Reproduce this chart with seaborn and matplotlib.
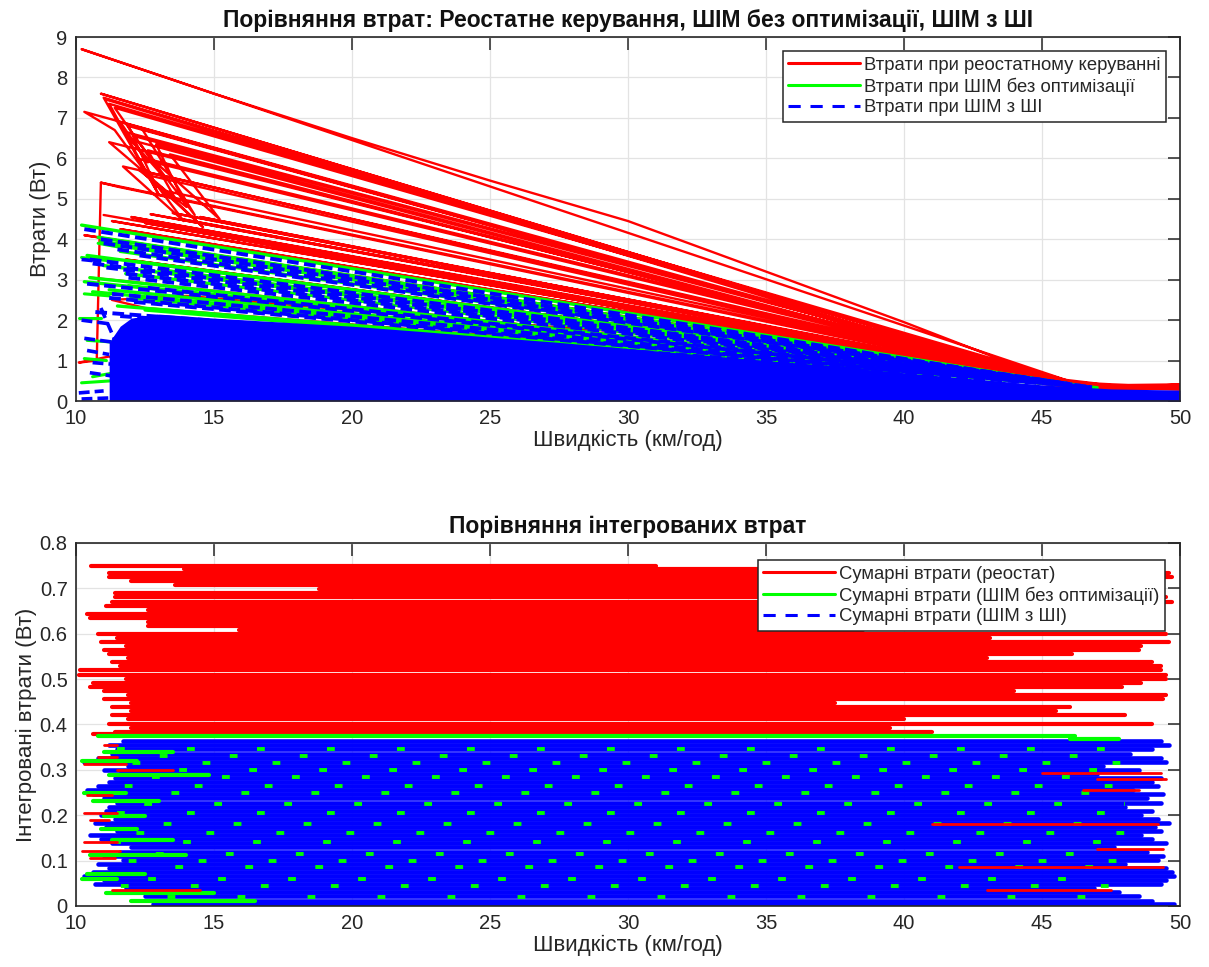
import pandas as pd
import matplotlib
matplotlib.use("Agg")
import matplotlib.pyplot as plt
import seaborn as sns
from matplotlib.lines import Line2D

# ---------------- top chart: losses vs speed ----------------
# red (rheostat) zig-zag path, upper fan
red_fan_speed = [46.3, 10.2, 15.0, 20.0, 25.0, 30.0, 35.0, 40.0, 45.5, 10.9, 45.8, 11.0, 13.0, 11.2, 46.1,
                 10.3, 11.4, 12.9, 11.9, 45.6, 12.4, 14.3, 12.1, 46.4, 11.2, 13.6, 12.6, 45.9, 11.7, 13.9,
                 12.2, 46.2, 10.9, 11.5, 45.3, 12.5, 14.6, 13.2, 46.6, 11.8, 12.6, 11.6, 45.7, 12.9, 14.0,
                 12.3, 46.0, 11.4, 13.1, 12.0, 45.4, 13.4, 15.2, 12.8, 46.5, 11.1, 44.9]
red_fan_loss = [0.42, 8.70, 7.60, 6.50, 5.45, 4.45, 3.20, 1.95, 0.50, 7.60, 0.45, 7.50, 5.10, 7.35, 0.42,
                7.15, 6.70, 5.30, 6.80, 0.47, 6.72, 4.60, 6.55, 0.40, 6.40, 5.00, 6.20, 0.43, 5.80, 4.45,
                6.00, 0.41, 5.40, 5.30, 0.50, 5.60, 4.30, 5.20, 0.38, 6.65, 5.90, 6.90, 0.44, 6.35, 4.80,
                5.70, 0.46, 7.25, 5.60, 6.45, 0.49, 6.10, 4.50, 5.95, 0.39, 7.45, 0.55]
# red middle fan
red_mid_speed = [11.0, 46.0, 12.0, 45.0, 13.5, 46.3, 11.3, 44.5, 10.3, 45.5, 12.5, 46.8, 11.8, 45.2, 12.2,
                 40.0, 13.0, 45.6, 14.5, 44.8, 11.6, 46.1, 13.8, 45.9, 12.7, 46.4]
red_mid_loss = [4.60, 0.43, 4.55, 0.52, 4.65, 0.40, 4.45, 0.60, 4.10, 0.47, 4.40, 0.36, 3.50, 0.50, 4.50,
                1.05, 4.35, 0.46, 4.55, 0.55, 4.25, 0.42, 4.50, 0.44, 4.62, 0.41]
# red lower curves
red_low_speed = [10.5, 12.0, 45.8, 46.0, 35.0, 25.0, 14.0, 11.3, 12.5, 30.0, 46.2]
red_low_loss = [3.05, 2.95, 0.42, 0.40, 1.45, 1.95, 2.60, 2.50, 2.30, 1.35, 0.38]
# red near-vertical line and short bits at low speed
red_left_speed = [10.9, 10.75, 10.1, 11.2, 12.0]
red_left_loss = [5.40, 1.00, 0.95, 1.10, 0.85]
# red tail at high speed
red_tail_speed = [44.0, 46.0, 47.5, 50.0, 48.0, 46.5, 44.5, 45.5, 47.0, 49.0, 50.0]
red_tail_loss = [0.62, 0.45, 0.36, 0.38, 0.30, 0.33, 0.50, 0.52, 0.40, 0.33, 0.31]

# green (PWM without optimisation) fan
green_fan_from_speed = [10.2, 10.8, 11.4, 10.4, 11.0, 11.8, 10.3, 11.2, 12.0, 10.6, 11.5, 12.5,
                        10.9, 11.6, 12.2, 13.0, 10.5, 11.9]
green_fan_from_loss = [4.35, 4.05, 3.85, 3.60, 3.35, 3.15, 2.95, 2.75, 2.55, 2.70, 2.35, 2.25,
                       3.95, 3.70, 3.45, 3.25, 3.05, 2.85]
green_fan_to_speed = [45.5, 45.2, 46.0, 45.6, 45.0, 46.2, 45.4, 45.8, 46.5, 45.3, 46.0, 47.0,
                      45.7, 45.1, 46.3, 45.9, 46.6, 45.5]
green_fan_to_loss = [0.47, 0.50, 0.42, 0.46, 0.52, 0.40, 0.47, 0.44, 0.36, 0.49, 0.42, 0.33,
                     0.45, 0.51, 0.39, 0.43, 0.35, 0.47]
# green short bits at low speed
green_stub_from_speed = [10.2, 10.3, 10.1, 10.2, 10.4, 10.6, 10.3, 10.8]
green_stub_from_loss = [3.55, 2.65, 2.05, 0.45, 1.50, 0.60, 1.05, 3.90]
green_stub_to_speed = [11.4, 11.2, 10.9, 11.3, 11.5, 11.8, 11.1, 11.6]
green_stub_to_loss = [3.45, 2.60, 2.05, 0.50, 1.45, 0.75, 1.00, 3.80]

# blue (PWM with AI) dashed fan
blue_fan_from_speed = [10.3, 10.9, 11.5, 10.5, 11.1, 11.9, 10.4, 11.3, 12.1, 10.7, 11.6,
                       11.0, 12.3, 10.6, 11.8, 12.6, 11.2]
blue_fan_from_loss = [4.25, 4.00, 3.75, 3.50, 3.30, 3.05, 2.90, 2.65, 2.45, 2.20, 2.10,
                      3.90, 3.60, 3.40, 3.15, 2.80, 2.55]
blue_fan_to_speed = [45.4, 45.9, 45.1, 46.1, 45.6, 45.0, 46.4, 45.7, 46.8, 45.2, 46.6,
                     45.8, 45.3, 46.2, 45.5, 46.0, 46.9]
blue_fan_to_loss = [0.46, 0.43, 0.50, 0.41, 0.45, 0.51, 0.38, 0.44, 0.34, 0.48, 0.36,
                    0.44, 0.49, 0.40, 0.46, 0.42, 0.33]
blue_stub_from_speed = [10.2, 10.1, 10.3, 10.5, 10.9, 10.2, 10.4, 10.2, 10.6]
blue_stub_from_loss = [2.00, 0.20, 1.55, 0.70, 2.30, 3.50, 1.25, 0.05, 0.95]
blue_stub_to_speed = [11.3, 11.0, 11.4, 11.5, 11.6, 10.9, 11.2, 11.4, 11.5]
blue_stub_to_loss = [1.90, 0.25, 1.45, 0.60, 1.20, 3.45, 1.15, 0.08, 0.90]
# dense solid blue mass (upper edge)
blue_mass_speed = [11.2, 11.6, 12.0, 13.0, 15.0, 17.5, 20.0, 22.5, 25.0, 27.5, 30.0, 32.5, 35.0,
                   37.5, 40.0, 42.5, 45.0, 47.5, 50.0]
blue_mass_top = [1.45, 1.85, 2.05, 2.15, 2.05, 1.95, 1.85, 1.72, 1.58, 1.45, 1.30, 1.15, 1.00,
                 0.85, 0.70, 0.55, 0.40, 0.30, 0.27]

# ---------------- bottom chart: integrated losses ----------------
red_sum_level = [0.750, 0.742, 0.734, 0.725, 0.717, 0.708, 0.698, 0.690, 0.680, 0.671, 0.662, 0.653, 0.644,
                 0.635, 0.626, 0.617, 0.608, 0.600, 0.591, 0.582, 0.573, 0.564, 0.555, 0.546, 0.537, 0.528,
                 0.519, 0.510, 0.501, 0.492, 0.483, 0.474, 0.465, 0.456, 0.447, 0.438, 0.429, 0.420, 0.411,
                 0.402, 0.393, 0.384, 0.378]
red_sum_from = [10.55, 13.9, 11.2, 11.2, 12.0, 13.6, 18.8, 11.4, 11.4, 11.3, 11.1, 12.6, 10.4,
                10.5, 12.6, 12.6, 15.9, 10.8, 11.5, 10.9, 11.8, 11.0, 11.2, 11.9, 11.3, 11.6,
                10.15, 10.1, 11.8, 10.6, 10.5, 11.0, 11.9, 11.0, 12.0, 11.3, 12.0, 11.3, 11.9,
                11.2, 12.0, 11.4, 10.6]
red_sum_to = [31.0, 34.8, 49.6, 49.7, 42.0, 45.0, 44.0, 48.0, 49.5, 49.7, 47.0, 44.0, 46.5,
              48.0, 40.8, 46.0, 38.5, 49.5, 43.1, 49.6, 48.6, 48.5, 46.1, 43.0, 49.0, 49.3,
              49.3, 49.5, 49.5, 48.6, 47.9, 44.0, 49.5, 49.4, 37.5, 46.0, 45.5, 48.0, 40.0,
              49.0, 39.5, 41.0, 32.0]

blue_sum_level = [0.363, 0.354, 0.345, 0.336, 0.327, 0.318, 0.309, 0.300, 0.291, 0.282, 0.273, 0.264,
                  0.255, 0.246, 0.237, 0.228, 0.219, 0.210, 0.201, 0.192, 0.183, 0.174, 0.165, 0.156,
                  0.147, 0.138, 0.129, 0.120, 0.111, 0.102, 0.093, 0.084, 0.075, 0.066, 0.057, 0.048,
                  0.039, 0.030, 0.021, 0.012, 0.004]
blue_sum_from = [11.7, 11.2, 11.5, 11.3, 10.8, 10.3, 11.9, 11.0, 11.6, 11.4, 11.2, 10.8,
                 10.4, 10.6, 11.0, 11.5, 11.2, 11.1, 10.9, 11.4, 10.7, 11.1, 11.5, 10.5,
                 10.9, 11.3, 12.0, 11.6, 11.0, 11.7, 10.8, 11.2, 10.6, 10.3, 11.0, 10.7,
                 11.8, 12.0, 12.5, 12.8, 12.8]
blue_sum_to = [49.3, 49.6, 49.0, 48.2, 49.3, 49.5, 47.2, 48.5, 47.0, 49.3, 49.0, 49.2,
               48.3, 49.4, 48.8, 49.3, 48.0, 49.0, 48.6, 49.2, 49.6, 49.1, 49.3, 48.6,
               49.0, 49.5, 47.6, 48.8, 49.4, 49.2, 48.0, 49.5, 49.7, 49.8, 49.5, 49.3,
               46.9, 47.8, 48.5, 49.0, 49.8]

# green edge on top of the blue block and short green runs at the left
green_sum_level = [0.375, 0.367, 0.340, 0.320, 0.288, 0.250, 0.232, 0.198, 0.170, 0.146, 0.112, 0.070,
                   0.060, 0.028, 0.012]
green_sum_from = [10.8, 46.0, 11.0, 10.2, 11.2, 10.3, 10.6, 11.0, 10.9, 11.3, 10.5, 10.4, 10.2, 11.1, 12.0]
green_sum_to = [46.2, 47.8, 13.5, 12.2, 14.8, 11.8, 13.0, 12.5, 12.2, 13.5, 14.0, 12.5, 11.5, 15.0, 16.5]
# rows where green speckles show through the blue dashes
green_dot_level = [0.345, 0.330, 0.315, 0.300, 0.285, 0.265, 0.250, 0.225, 0.205, 0.180, 0.160, 0.140,
                   0.115, 0.100, 0.085, 0.060, 0.045, 0.020]
# red runs inside the blue block
red_in_level = [0.355, 0.328, 0.312, 0.300, 0.245, 0.205, 0.190, 0.140, 0.122, 0.105, 0.035,
                0.292, 0.280, 0.255, 0.180, 0.125, 0.085, 0.035]
red_in_from = [11.0, 10.8, 10.3, 11.5, 10.4, 10.3, 10.5, 10.3, 10.2, 10.5, 11.3,
               45.0, 47.0, 46.5, 41.0, 47.0, 42.0, 43.0]
red_in_to = [11.5, 11.5, 11.8, 13.5, 11.3, 11.5, 11.2, 11.5, 11.6, 11.4, 14.5,
             49.3, 49.5, 48.5, 49.2, 49.4, 49.4, 47.5]

x_ticks = [10, 15, 20, 25, 30, 35, 40, 45, 50]
y_ticks_top = [0, 1, 2, 3, 4, 5, 6, 7, 8, 9]
y_ticks_bottom = [0, 0.1, 0.2, 0.3, 0.4, 0.5, 0.6, 0.7, 0.8]
y_labels_bottom = ['0', '0.1', '0.2', '0.3', '0.4', '0.5', '0.6', '0.7', '0.8']


def path(xs, ys):
    return pd.DataFrame({'x': xs, 'y': ys, 'seg': 0})


def segments(x0, y0, x1, y1):
    rows = []
    for i in range(len(x0)):
        rows.append((x0[i], y0[i], i))
        rows.append((x1[i], y1[i], i))
    return pd.DataFrame(rows, columns=['x', 'y', 'seg'])


def draw(ax, df, color, lw, z, **kw):
    sns.lineplot(data=df, x='x', y='y', units='seg', estimator=None, sort=False,
                 color=color, lw=lw, zorder=z, ax=ax, legend=False, **kw)


sns.set_theme(style='white')
plt.rcParams['font.family'] = ['Liberation Sans', 'DejaVu Sans']
ink = '#262626'

fig = plt.figure(figsize=(12.09, 9.67), dpi=100)
ax1 = fig.add_axes([0.0629, 0.5853, 0.9131, 0.3764])
ax2 = fig.add_axes([0.0629, 0.0631, 0.9131, 0.3754])

RED, GREEN, BLUE = '#ff0000', '#00ff00', '#0000ff'
blue_dash = (0, (3.0, 1.4))

# top
for xs, ys in [(red_fan_speed, red_fan_loss), (red_mid_speed, red_mid_loss),
               (red_low_speed, red_low_loss), (red_left_speed, red_left_loss)]:
    draw(ax1, path(xs, ys), RED, 1.7, 2)
draw(ax1, path(red_tail_speed, red_tail_loss), RED, 3.5, 2)
draw(ax1, segments(green_fan_from_speed, green_fan_from_loss, green_fan_to_speed, green_fan_to_loss),
     GREEN, 2.4, 3)
draw(ax1, segments(green_stub_from_speed, green_stub_from_loss, green_stub_to_speed, green_stub_to_loss),
     GREEN, 2.2, 3)
ax1.fill_between(blue_mass_speed, 0, blue_mass_top, color=BLUE, lw=0, zorder=4)
draw(ax1, segments(blue_fan_from_speed, blue_fan_from_loss, blue_fan_to_speed, blue_fan_to_loss),
     BLUE, 2.8, 4, linestyle=blue_dash)
draw(ax1, segments(blue_stub_from_speed, blue_stub_from_loss, blue_stub_to_speed, blue_stub_to_loss),
     BLUE, 2.6, 4, linestyle=blue_dash)

# bottom
draw(ax2, segments(red_sum_from, red_sum_level, red_sum_to, red_sum_level), RED, 3.0, 2)
draw(ax2, segments(blue_sum_from, blue_sum_level, blue_sum_to, blue_sum_level), BLUE, 3.3, 3)
draw(ax2, segments(green_sum_from, green_sum_level, green_sum_to, green_sum_level), GREEN, 3.0, 4)
for k, lev in enumerate(green_dot_level):
    draw(ax2, segments([11.5], [lev], [48.0], [lev]), GREEN, 2.8, 4,
         linestyle=(k * 7 % 19, (2.0, 16)))
draw(ax2, segments(red_in_from, red_in_level, red_in_to, red_in_level), RED, 2.0, 4)

for ax, yt, ylim in [(ax1, y_ticks_top, (0, 9)), (ax2, y_ticks_bottom, (0, 0.8))]:
    ax.set_xlim(10, 50)
    ax.set_ylim(*ylim)
    ax.set_xticks(x_ticks)
    ax.set_yticks(yt)
    ax.grid(True, color='#e3e3e3', lw=0.9)
    ax.set_axisbelow(True)
    ax.tick_params(direction='in', top=True, right=True, length=9, width=1.1, color=ink,
                   labelsize=14.5, labelcolor=ink, pad=6)
    for s in ax.spines.values():
        s.set_color(ink)
        s.set_linewidth(1.2)
        s.set_zorder(6)
    ax.set_xlabel('Швидкість (км/год)', fontsize=16, color=ink, labelpad=1)

ax2.set_yticklabels(y_labels_bottom)
ax1.set_ylabel('Втрати (Вт)', fontsize=16, color=ink, labelpad=4)
ax2.set_ylabel('Інтегровані втрати (Вт)', fontsize=16, color=ink, labelpad=2)
ax1.set_title('Порівняння втрат: Реостатне керування, ШІМ без оптимізації, ШІМ з ШІ',
              fontsize=16.5, fontweight='bold', color='#111111', pad=7)
ax2.set_title('Порівняння інтегрованих втрат', fontsize=16.5, fontweight='bold', color='#111111', pad=7)


def handles(labels):
    return [Line2D([], [], color=RED, lw=2.2, label=labels[0]),
            Line2D([], [], color=GREEN, lw=2.2, label=labels[1]),
            Line2D([], [], color=BLUE, lw=2.2, linestyle=(0, (4, 3.2)), label=labels[2])]


for ax, labels, anchor in [
        (ax1, ['Втрати при реостатному керуванні', 'Втрати при ШІМ без оптимізації',
               'Втрати при ШІМ з ШІ'], (0.9873, 0.9615)),
        (ax2, ['Сумарні втрати (реостат)', 'Сумарні втрати (ШІМ без оптимізації)',
               'Сумарні втрати (ШІМ з ШІ)'], (0.9864, 0.953))]:
    leg = ax.legend(handles=handles(labels), loc='upper right', bbox_to_anchor=anchor, borderaxespad=0,
                    fontsize=13.3, frameon=True, fancybox=False, framealpha=1, edgecolor=ink,
                    handlelength=3.9, handletextpad=0.2, labelspacing=0.2, borderpad=0.3)
    leg.get_frame().set_linewidth(1.1)
    leg.set_zorder(10)

fig.savefig('out.png', dpi=100)
